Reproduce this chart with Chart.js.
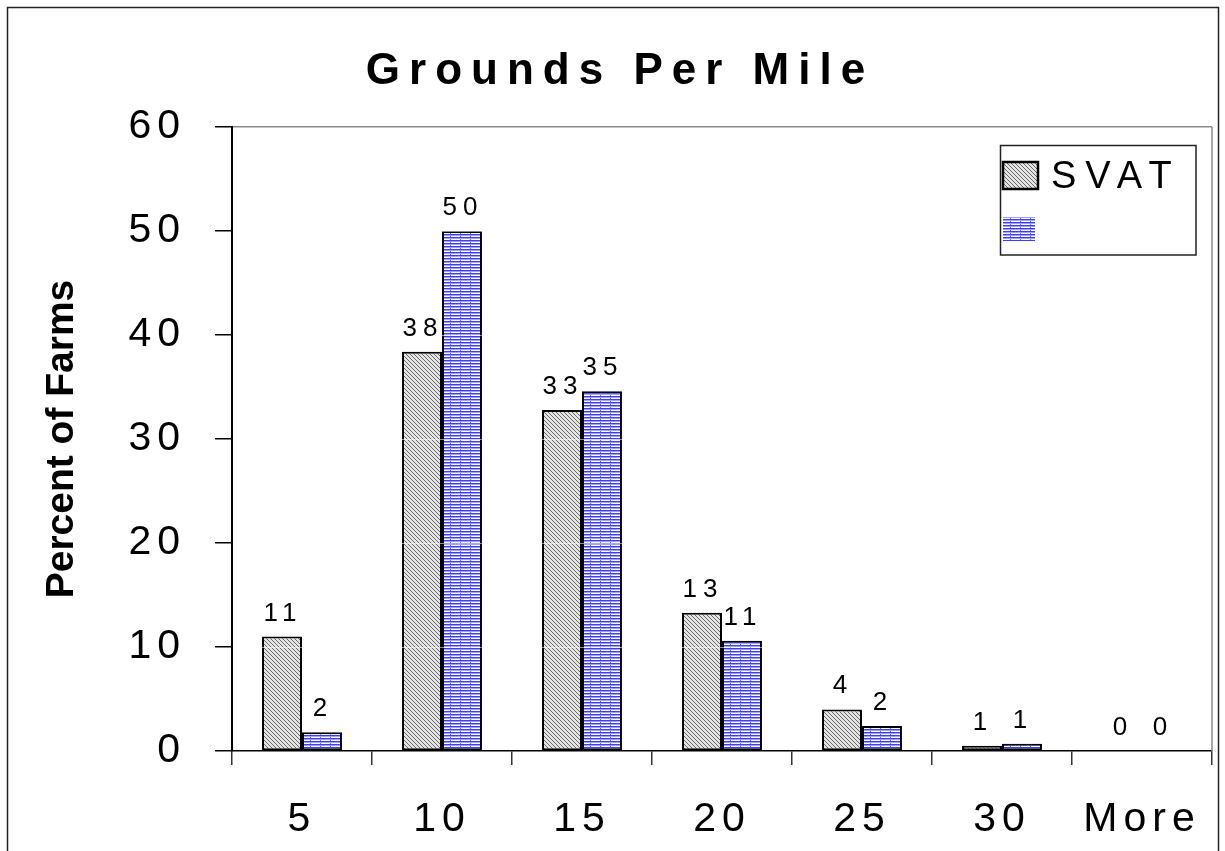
<!DOCTYPE html>
<html>
<head>
<meta charset="utf-8">
<script src="https://cdn.jsdelivr.net/npm/chart.js@4/dist/chart.umd.min.js"></script>
<style>
  body { margin: 0; background: #fff; }
  canvas { display: block; }
</style>
</head>
<body>
<canvas id="chart" width="1225" height="851"></canvas>
<script>
// Chart data
const categories = ['5', '10', '15', '20', '25', '30', 'More'];
const svatValues = [11.0, 38.4, 32.8, 13.3, 4.0, 0.5, 0];
const otherValues = [1.8, 50.0, 34.6, 10.6, 2.4, 0.7, 0];
const yTicks = [0, 10, 20, 30, 40, 50, 60];

const titleText = 'Grounds Per Mile';
const yTitleText = 'Percent of Farms';
const font = '"Liberation Sans", Arial, sans-serif';

const canvas = document.getElementById('chart');
const ctx = canvas.getContext('2d');

// gray diagonal hatch for SVAT
function grayPattern() {
  const c = document.createElement('canvas');
  c.width = 4; c.height = 4;
  const g = c.getContext('2d');
  g.fillStyle = '#e4e4e4';
  g.fillRect(0, 0, 4, 4);
  g.fillStyle = '#6a6a6a';
  for (let i = 0; i < 4; i++) g.fillRect(i, i, 1, 1);
  return ctx.createPattern(c, 'repeat');
}

// blue horizontal lines with dotted verticals
function bluePattern() {
  const c = document.createElement('canvas');
  c.width = 10; c.height = 3;
  const g = c.getContext('2d');
  g.fillStyle = '#ffffff';
  g.fillRect(0, 0, 10, 3);
  g.fillStyle = '#3c3cff';
  g.fillRect(0, 0, 10, 1);
  g.fillStyle = '#a0a0ff';
  g.fillRect(0, 1, 10, 1);
  g.fillStyle = '#6a6aff';
  g.fillRect(0, 2, 1, 1);
  return ctx.createPattern(c, 'repeat');
}

const grayFill = grayPattern();
const blueFill = bluePattern();

// extras drawn around the chart: border, title, axis title, legend, value labels
const extras = {
  id: 'extras',
  beforeDraw(chart) {
    const c = chart.ctx;
    c.save();
    c.fillStyle = '#fff';
    c.fillRect(0, 0, chart.width, chart.height);
    c.strokeStyle = '#222';
    c.lineWidth = 1.5;
    c.strokeRect(7.5, 7.5, 1211, 880);
    c.restore();
    // wide letter spacing for the tick labels, reset in afterDraw
    c.letterSpacing = '6px';
  },
  afterDatasetsDraw(chart) {
    const c = chart.ctx;
    const a = chart.chartArea;
    const y = chart.scales.y;
    c.save();
    // faint gridlines that show through the bars
    c.strokeStyle = 'rgba(255,255,255,0.55)';
    c.lineWidth = 1;
    yTicks.slice(1, -1).forEach(v => {
      const py = Math.round(y.getPixelForValue(v)) + 0.5;
      c.beginPath();
      c.moveTo(a.left + 2, py);
      c.lineTo(a.right, py);
      c.stroke();
    });
    // plot area right edge
    c.strokeStyle = '#8a8a8a';
    c.lineWidth = 1.5;
    c.beginPath();
    c.moveTo(a.right, a.top);
    c.lineTo(a.right, a.bottom);
    c.stroke();

    // value labels
    c.fillStyle = '#000';
    c.font = '26px ' + font;
    c.letterSpacing = '6px';
    c.textAlign = 'center';
    c.textBaseline = 'alphabetic';
    chart.data.datasets.forEach((ds, i) => {
      chart.getDatasetMeta(i).data.forEach((el, j) => {
        c.fillText(String(Math.round(ds.data[j])), el.x + 1, el.y - 16);
      });
    });
    c.restore();
  },
  afterDraw(chart) {
    const c = chart.ctx;
    const a = chart.chartArea;
    c.save();
    c.letterSpacing = '0px';
    c.fillStyle = '#000';

    // title
    c.font = 'bold 44px ' + font;
    c.letterSpacing = '9px';
    c.textAlign = 'center';
    c.textBaseline = 'alphabetic';
    c.fillText(titleText, 620, 84);

    // y axis title
    c.save();
    c.translate(73, (a.top + a.bottom) / 2);
    c.rotate(-Math.PI / 2);
    c.font = 'bold 39px ' + font;
    c.letterSpacing = '0px';
    c.fillText(yTitleText, 0, 0);
    c.restore();

    // legend
    c.strokeStyle = '#222';
    c.lineWidth = 1.5;
    c.strokeRect(1000.5, 145.5, 1196 - 1000.5, 255 - 145.5);
    const ds = chart.data.datasets;
    c.fillStyle = ds[0].backgroundColor;
    c.fillRect(1003, 162, 35, 27);
    c.strokeStyle = '#000';
    c.lineWidth = 2.5;
    c.strokeRect(1003, 162, 35, 27);
    c.fillStyle = ds[1].backgroundColor;
    c.fillRect(1003, 217, 32, 24);
    c.fillStyle = '#000';
    c.font = '38px ' + font;
    c.letterSpacing = '9px';
    c.textAlign = 'left';
    c.fillText(ds[0].label, 1051, 188);
    c.fillText(ds[1].label, 1051, 242);
    c.restore();
    c.letterSpacing = '0px';
  }
};

new Chart(ctx, {
  type: 'bar',
  data: {
    labels: categories,
    datasets: [
      {
        label: 'SVAT',
        data: svatValues,
        backgroundColor: grayFill,
        borderColor: '#000',
        borderWidth: 2,
        borderSkipped: false
      },
      {
        label: '',
        data: otherValues,
        backgroundColor: blueFill,
        borderColor: '#000',
        borderWidth: 2,
        borderSkipped: false
      }
    ]
  },
  options: {
    responsive: false,
    animation: false,
    devicePixelRatio: 1,
    categoryPercentage: 0.571,
    barPercentage: 1.0,
    layout: { padding: { left: 0, right: 13, top: 127, bottom: 0 } },
    plugins: {
      legend: { display: false },
      title: { display: false },
      tooltip: { enabled: false }
    },
    scales: {
      x: {
        afterFit(scale) { scale.height = 100; },
        grid: {
          offset: true,
          drawOnChartArea: false,
          color: '#000',
          tickColor: '#333',
          tickLength: 14,
          lineWidth: 1.5
        },
        border: { color: '#000', width: 1.5 },
        ticks: {
          color: '#000',
          font: { family: font, size: 41 },
          padding: 30,
          maxRotation: 0
        }
      },
      y: {
        min: 0,
        max: 60,
        afterFit(scale) { scale.width = 232; },
        afterBuildTicks(scale) { scale.ticks = yTicks.map(v => ({ value: v })); },
        grid: {
          color: c => (c.tick && c.tick.value === 60 ? '#8a8a8a' : 'rgba(0,0,0,0)'),
          tickColor: '#000',
          tickLength: 17,
          lineWidth: 1.5
        },
        border: { color: '#000', width: 2 },
        ticks: {
          color: '#000',
          font: { family: font, size: 41 },
          padding: 29
        }
      }
    }
  },
  plugins: [extras]
});
</script>
</body>
</html>
